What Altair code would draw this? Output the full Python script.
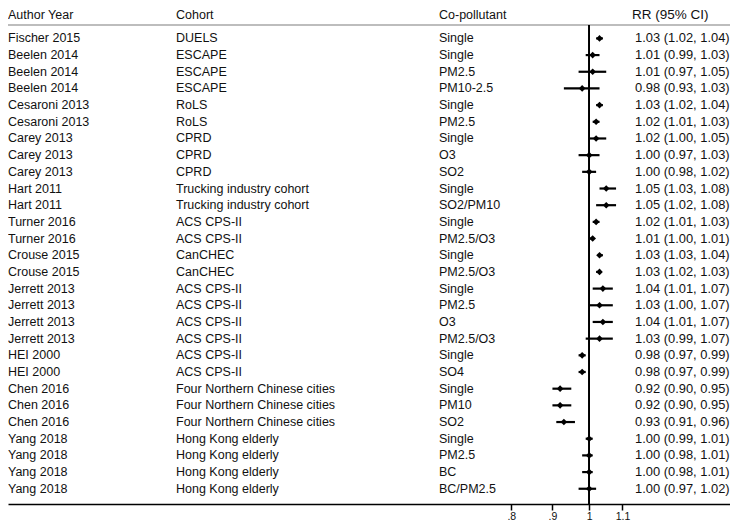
import altair as alt
import pandas as pd

authors = ["Fischer 2015", "Beelen 2014", "Beelen 2014", "Beelen 2014", "Cesaroni 2013", "Cesaroni 2013",
           "Carey 2013", "Carey 2013", "Carey 2013", "Hart 2011", "Hart 2011", "Turner 2016", "Turner 2016",
           "Crouse 2015", "Crouse 2015", "Jerrett 2013", "Jerrett 2013", "Jerrett 2013", "Jerrett 2013",
           "HEI 2000", "HEI 2000", "Chen 2016", "Chen 2016", "Chen 2016", "Yang 2018", "Yang 2018",
           "Yang 2018", "Yang 2018"]
cohorts = ["DUELS", "ESCAPE", "ESCAPE", "ESCAPE", "RoLS", "RoLS", "CPRD", "CPRD", "CPRD",
           "Trucking industry cohort", "Trucking industry cohort", "ACS CPS-II", "ACS CPS-II",
           "CanCHEC", "CanCHEC", "ACS CPS-II", "ACS CPS-II", "ACS CPS-II", "ACS CPS-II",
           "ACS CPS-II", "ACS CPS-II", "Four Northern Chinese cities", "Four Northern Chinese cities",
           "Four Northern Chinese cities", "Hong Kong elderly", "Hong Kong elderly",
           "Hong Kong elderly", "Hong Kong elderly"]
copollutants = ["Single", "Single", "PM2.5", "PM10-2.5", "Single", "PM2.5", "Single", "O3", "SO2",
                "Single", "SO2/PM10", "Single", "PM2.5/O3", "Single", "PM2.5/O3", "Single", "PM2.5",
                "O3", "PM2.5/O3", "Single", "SO4", "Single", "PM10", "SO2", "Single", "PM2.5", "BC",
                "BC/PM2.5"]
rr = [1.03, 1.01, 1.01, 0.98, 1.03, 1.02, 1.02, 1.00, 1.00, 1.05, 1.05, 1.02, 1.01, 1.03, 1.03,
      1.04, 1.03, 1.04, 1.03, 0.98, 0.98, 0.92, 0.92, 0.93, 1.00, 1.00, 1.00, 1.00]
lo = [1.02, 0.99, 0.97, 0.93, 1.02, 1.01, 1.00, 0.97, 0.98, 1.03, 1.02, 1.01, 1.00, 1.03, 1.02,
      1.01, 1.00, 1.01, 0.99, 0.97, 0.97, 0.90, 0.90, 0.91, 0.99, 0.98, 0.98, 0.97]
hi = [1.04, 1.03, 1.05, 1.03, 1.04, 1.03, 1.05, 1.03, 1.02, 1.08, 1.08, 1.03, 1.01, 1.04, 1.03,
      1.07, 1.07, 1.07, 1.07, 0.99, 0.99, 0.95, 0.95, 0.96, 1.01, 1.01, 1.01, 1.02]
headers = ["Author Year", "Cohort", "Co-pollutant", "RR (95% CI)"]
tick_values = [0.8, 0.9, 1.0, 1.1]

df = pd.DataFrame({
    "row": list(range(1, len(rr) + 1)),
    "author": authors,
    "cohort": cohorts,
    "copoll": copollutants,
    "rr": rr,
    "lo": lo,
    "hi": hi,
})
df["label"] = [f"{a:.2f} ({b:.2f}, {c:.2f})" for a, b, c in zip(rr, lo, hi)]

W, H = 722, 496
FONT = "Liberation Sans"
FS = 12.5

xscale = alt.Scale(type="log", domain=[0.1891, 1.4970], nice=False, zero=False)
yscale = alt.Scale(domain=[-0.8225, 28.914], reverse=True, nice=False, zero=False)
yenc = alt.Y("row:Q", scale=yscale, axis=None)

base = alt.Chart(df)

ci = base.mark_rule(color="black", strokeWidth=2.2).encode(
    x=alt.X("lo:Q", scale=xscale, title=None,
            axis=alt.Axis(values=tick_values, grid=False, domain=True,
                          labelExpr="datum.value < 1 ? substring(format(datum.value, '.1f'), 1) : format(datum.value, '.1~f')")),
    x2="hi:Q",
    y=yenc,
)
pts = base.mark_point(shape="diamond", filled=True, size=44, color="black", opacity=1).encode(
    x=alt.X("rr:Q", scale=xscale), y=yenc
)

hdr_df = pd.DataFrame({"h": headers})
hdr_x = [0, 168, 431, 624]
hdr_fs = [FS, FS, FS, 13.5]
hdr_layers = [
    alt.Chart(hdr_df).transform_filter(alt.datum.h == h).mark_text(
        align="left", baseline="middle", font=FONT, fontSize=fs, color="#111"
    ).encode(x=alt.value(px), y=alt.value(7), text="h:N")
    for h, px, fs in zip(headers, hdr_x, hdr_fs)
]

sep = alt.Chart(hdr_df).mark_rule(color="#bdbdbd", strokeWidth=1.5).encode(
    x=alt.value(0), x2=alt.value(W), y=alt.value(17)
)
vline = alt.Chart(hdr_df).mark_rule(color="black", strokeWidth=1.6).encode(
    x=alt.datum(1.0), y=alt.value(17), y2=alt.value(H)
)

def col(field, px, fs=FS):
    return base.mark_text(align="left", baseline="middle", font=FONT, fontSize=fs, color="#111").encode(
        x=alt.value(px), y=yenc, text=f"{field}:N"
    )

chart = alt.layer(
    sep, vline, ci, pts,
    col("author", 0), col("cohort", 168), col("copoll", 431), col("label", 627, 12.9),
    *hdr_layers,
).properties(
    width=W, height=H,
    autosize=alt.AutoSizeParams(type="none"),
    padding={"left": 0, "top": 0, "right": 0, "bottom": 16},
).configure_view(stroke=None).configure_axis(
    domainColor="black", domainWidth=1.5, tickColor="black", tickWidth=1.5, tickSize=6,
    labelFont=FONT, labelFontSize=10.5, labelColor="#111", labelPadding=1,
)

chart.save("out.html", embed_options={"renderer": "svg", "actions": False})
